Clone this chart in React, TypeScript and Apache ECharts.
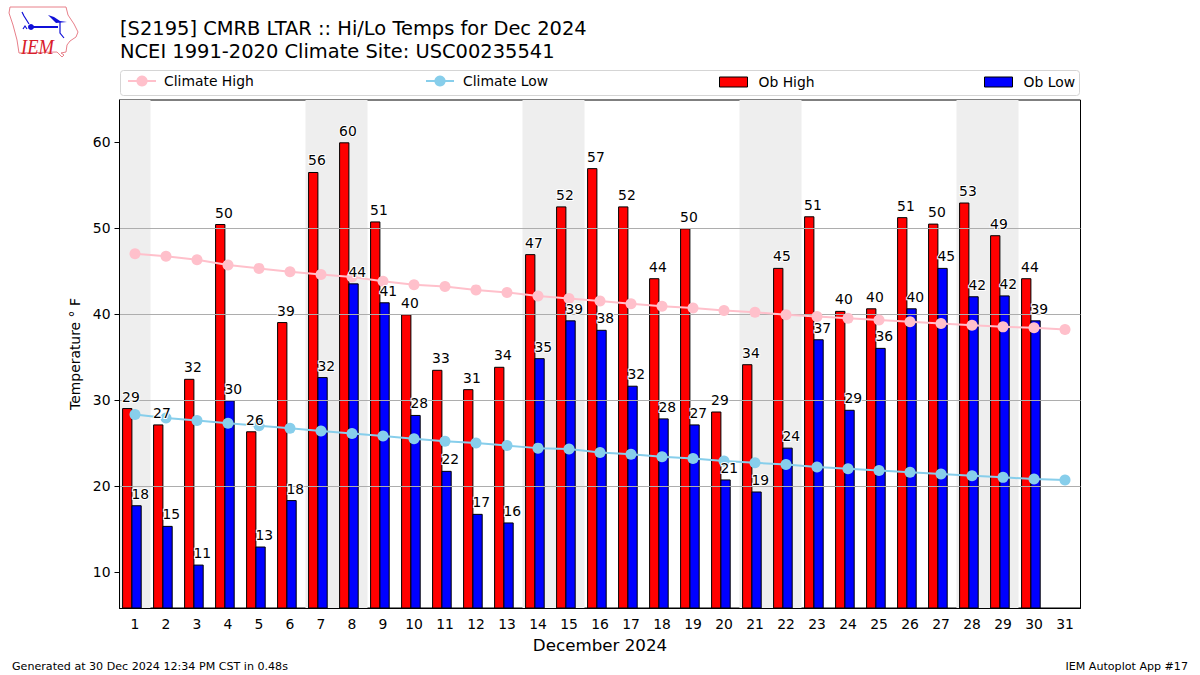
import React, { useEffect, useRef } from "react";
import * as echarts from "echarts";

const days = Array.from({ length: 31 }, (_, i) => String(i + 1));
const obHigh = [29, 27.1, 32.4, 50.4, 26.3, 39, 56.45, 59.9, 50.7, 39.9, 33.45, 31.2, 33.8, 46.9, 52.45, 56.9, 52.45, 44.1, 49.9, 28.6, 34.1, 45.3, 51.3, 40.3, 40.6, 51.2, 50.45, 52.9, 49.1, 44.1];
const obLow = [17.7, 15.3, 10.8, 29.9, 12.9, 18.3, 32.6, 43.5, 41.3, 28.2, 21.7, 16.7, 15.7, 34.8, 39.2, 38.1, 31.6, 27.8, 27.1, 20.7, 19.3, 24.4, 37, 28.8, 36, 40.6, 45.3, 42, 42.1, 39.2];
const highLabels = [29, 27, 32, 50, 26, 39, 56, 60, 51, 40, 33, 31, 34, 47, 52, 57, 52, 44, 50, 29, 34, 45, 51, 40, 40, 51, 50, 53, 49, 44];
const lowLabels = [18, 15, 11, 30, 13, 18, 32, 44, 41, 28, 22, 17, 16, 35, 39, 38, 32, 28, 27, 21, 19, 24, 37, 29, 36, 40, 45, 42, 42, 39];
const climateHigh = [47.0, 46.7, 46.3, 45.7, 45.3, 44.9, 44.6, 44.3, 43.8, 43.4, 43.2, 42.8, 42.5, 42.1, 41.8, 41.5, 41.2, 40.9, 40.7, 40.4, 40.2, 39.9, 39.7, 39.5, 39.3, 39.1, 38.9, 38.7, 38.5, 38.4, 38.2];
const climateLow = [28.3, 27.9, 27.6, 27.3, 27.0, 26.7, 26.4, 26.1, 25.8, 25.5, 25.2, 25.0, 24.7, 24.4, 24.3, 23.9, 23.7, 23.4, 23.2, 22.9, 22.7, 22.5, 22.2, 22.0, 21.8, 21.6, 21.4, 21.2, 21.0, 20.8, 20.7];
const weekendStart = [1, 7, 14, 21, 28];
const weekendEnd = [1, 8, 15, 22, 29];
const yTicks = [10, 20, 30, 40, 50, 60];

const FONT = "DejaVu Sans";
const Y_MIN = 5.81;
const Y_MAX = 64.88;

function barSeries(name: string, values: number[], color: string, offset: number) {
  return {
    name,
    type: "custom",
    z: 2,
    encode: { x: 0, y: 1 },
    data: values.map((v, i) => [i, v]),
    itemStyle: { color, borderColor: "#000", borderWidth: 1 },
    renderItem: (_: any, api: any) => {
      const top = api.coord([api.value(0), api.value(1)]);
      const base = api.coord([api.value(0), Y_MIN]);
      const band = api.size([1, 0])[0];
      return {
        type: "rect",
        shape: {
          x: top[0] + offset * band,
          y: top[1],
          width: 0.3 * band,
          height: base[1] - top[1],
        },
        style: { fill: color, stroke: "#000", lineWidth: 1 },
      };
    },
  };
}

function labelSeries(name: string, values: number[], labels: number[], offset: number) {
  return {
    name,
    type: "custom",
    z: 6,
    silent: true,
    encode: { x: 0, y: 1 },
    data: values.map((v, i) => [i, v, labels[i]]),
    renderItem: (_: any, api: any) => {
      const top = api.coord([api.value(0), api.value(1)]);
      const band = api.size([1, 0])[0];
      return {
        type: "text",
        x: top[0] + offset * band - 0.5,
        y: top[1] - 5,
        style: {
          text: String(api.value(2)),
          fill: "#000",
          font: `13.9px "${FONT}"`,
          textAlign: "left",
          textVerticalAlign: "bottom",
          stroke: "#fff",
          lineWidth: 2,
        },
      };
    },
  };
}

export default function App() {
  const ref = useRef<HTMLDivElement>(null);
  useEffect(() => {
    const chart = echarts.init(ref.current!, undefined, { renderer: "svg" });
    const legendText = (gap: number) => ({ fontFamily: FONT, fontSize: 13.9, color: "#000", padding: [0, 0, 0, gap] });
    const legendCommon = { itemWidth: 28, selectedMode: false };
    const lineLegend = { ...legendCommon, top: 69, itemHeight: 14 };
    const patchLegend = { ...legendCommon, top: 70, itemHeight: 10 };
    const logoStroke = { stroke: "#e8808a", fill: "none", lineWidth: 1 };
    chart.setOption({
      animation: false,
      backgroundColor: "#fff",
      textStyle: { fontFamily: FONT },
      grid: {
        left: 119.5,
        right: 119.5,
        top: 100,
        bottom: 67,
        show: true,
        borderColor: "#000",
        borderWidth: 1,
        backgroundColor: "transparent",
        containLabel: false,
      },
      legend: [
        { ...lineLegend, left: 122, textStyle: legendText(3), data: [{ name: "Climate High" }] },
        { ...lineLegend, left: 420, textStyle: legendText(4), data: [{ name: "Climate Low" }] },
        { ...patchLegend, left: 714, textStyle: legendText(6), data: [{ name: "Ob High", icon: "rect", itemStyle: { color: "#f00", borderColor: "#000", borderWidth: 1 } }] },
        { ...patchLegend, left: 979, textStyle: legendText(6), data: [{ name: "Ob Low", icon: "rect", itemStyle: { color: "#00f", borderColor: "#000", borderWidth: 1 } }] },
      ],
      xAxis: {
        type: "category",
        data: days,
        boundaryGap: true,
        name: "December 2024",
        nameLocation: "middle",
        nameGap: 28,
        nameTextStyle: { fontFamily: FONT, fontSize: 16.7, color: "#000" },
        axisLine: { lineStyle: { color: "#000", width: 1 } },
        axisTick: { alignWithLabel: true, length: 5, lineStyle: { color: "#000" } },
        axisLabel: { interval: 0, margin: 9, fontFamily: FONT, fontSize: 13.9, color: "#000" },
        splitLine: { show: false },
      },
      yAxis: {
        type: "value",
        min: Y_MIN,
        max: Y_MAX,
        z: 3,
        name: "Temperature ° F",
        nameLocation: "middle",
        nameGap: 37,
        nameRotate: 90,
        nameTextStyle: { fontFamily: FONT, fontSize: 13.9, color: "#000" },
        axisLine: { show: true, lineStyle: { color: "#000", width: 1 } },
        axisTick: { show: true, length: 5, lineStyle: { color: "#000" }, customValues: yTicks },
        axisLabel: { margin: 9, fontFamily: FONT, fontSize: 13.9, color: "#000", customValues: yTicks },
        splitLine: { show: true, showMinLine: false, showMaxLine: false, lineStyle: { color: "#adadad", width: 1 } },
      },
      series: [
        {
          name: "Weekend",
          type: "custom",
          z: 0,
          silent: true,
          encode: { x: 0 },
          data: weekendStart.map((s, i) => [s - 1, weekendEnd[i] - 1]),
          renderItem: (params: any, api: any) => {
            const cs = params.coordSys;
            const band = api.size([1, 0])[0];
            const a = api.coord([api.value(0), 10])[0] - band / 2;
            const b = api.coord([api.value(1), 10])[0] + band / 2;
            return {
              type: "rect",
              shape: { x: a, y: cs.y, width: b - a, height: cs.height },
              style: { fill: "#eeeeee" },
            };
          },
        },
        barSeries("Ob High", obHigh, "#ff0000", -0.4),
        barSeries("Ob Low", obLow, "#0000ff", -0.1),
        {
          name: "Climate High",
          type: "line",
          z: 5,
          data: climateHigh,
          color: "#ffc0cb",
          symbol: "circle",
          symbolSize: 11,
          showSymbol: true,
          lineStyle: { color: "#ffc0cb", width: 2 },
          itemStyle: { color: "#ffc0cb" },
        },
        {
          name: "Climate Low",
          type: "line",
          z: 5,
          data: climateLow,
          color: "#87ceeb",
          symbol: "circle",
          symbolSize: 11,
          showSymbol: true,
          lineStyle: { color: "#87ceeb", width: 2 },
          itemStyle: { color: "#87ceeb" },
        },
        labelSeries("High labels", obHigh, highLabels, -0.4),
        labelSeries("Low labels", obLow, lowLabels, -0.1),
      ],
      graphic: [
        { type: "rect", z: -1, shape: { x: 120.5, y: 70.5, width: 959, height: 25, r: 3 }, style: { fill: "#fff", stroke: "#d5d5d5", lineWidth: 1 } },
        { type: "text", x: 120, y: 19, style: { text: "[S2195] CMRB LTAR :: Hi/Lo Temps for Dec 2024", font: `19.45px "${FONT}"`, fill: "#000" } },
        { type: "text", x: 120, y: 41.5, style: { text: "NCEI 1991-2020 Climate Site: USC00235541", font: `19.45px "${FONT}"`, fill: "#000" } },
        { type: "text", x: 12, y: 661, style: { text: "Generated at 30 Dec 2024 12:34 PM CST in 0.48s", font: `11.1px "${FONT}"`, fill: "#000" } },
        { type: "text", x: 1188, y: 661, style: { text: "IEM Autoplot App #17", font: `11.1px "${FONT}"`, fill: "#000", textAlign: "right" } },
        { type: "polygon", shape: { points: [[10, 7], [66, 7], [68, 15], [74, 24], [78, 32], [76, 37], [70, 41], [67, 45], [66, 52], [61, 53], [64, 55], [62, 57], [57, 52], [19, 53], [17, 40], [13, 25], [9, 13]] }, style: logoStroke },
        { type: "text", x: 21, y: 36, scaleX: 0.88, style: { text: "IEM", font: `italic 21px "Liberation Serif"`, fill: "#d8202a" } },
        { type: "line", shape: { x1: 31, y1: 27, x2: 58, y2: 27 }, style: { stroke: "#1010d8", lineWidth: 2 } },
        { type: "circle", shape: { cx: 31, cy: 27, r: 3 }, style: { fill: "#1010d8" } },
        { type: "polyline", shape: { points: [[22, 12], [24, 16], [29, 24]] }, style: { stroke: "#1010d8", fill: "none", lineWidth: 1.2 } },
        { type: "polygon", shape: { points: [[48, 15], [54, 17], [60, 21], [67, 22], [56, 23]] }, style: { fill: "#1010d8" } },
        { type: "polyline", shape: { points: [[60, 22], [60, 33], [64, 38]] }, style: { stroke: "#1010d8", fill: "none", lineWidth: 1.2 } },
        { type: "polyline", shape: { points: [[23, 29], [25, 26], [27, 29]] }, style: { stroke: "#1010d8", fill: "none", lineWidth: 1.2 } },
      ],
    });
    return () => chart.dispose();
  }, []);
  return <div ref={ref} style={{ position: "absolute", left: 0, top: 0, width: 1200, height: 675 }} />;
}
